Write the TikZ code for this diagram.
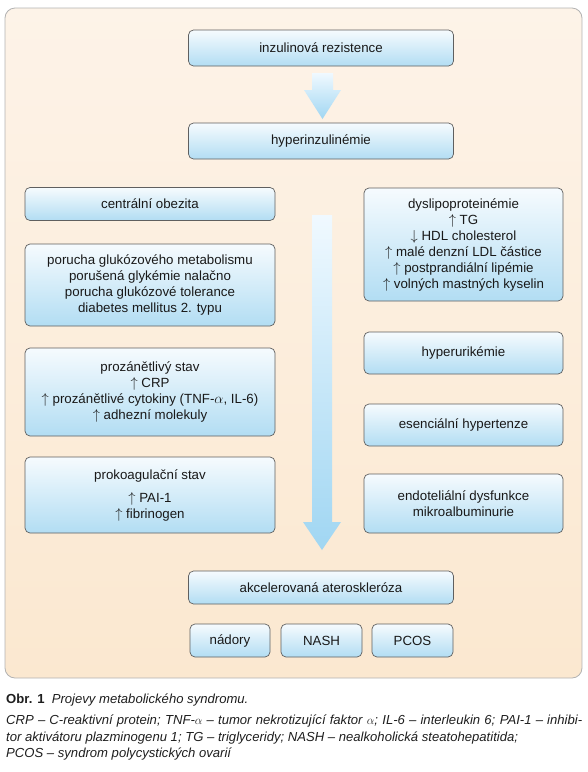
\documentclass[tikz,border=0pt]{standalone}
\usepackage{fontspec}
\setmainfont{Liberation Sans}
\usetikzlibrary{positioning}
\definecolor{panelA}{RGB}{253,243,232}
\definecolor{panelB}{RGB}{251,232,208}
\definecolor{boxtop}{RGB}{246,251,254}
\definecolor{boxbot}{RGB}{178,221,243}
\definecolor{arrtop}{RGB}{240,249,255}
\definecolor{arrbot}{RGB}{160,214,242}
\definecolor{boxline}{RGB}{95,95,95}
\definecolor{captxt}{RGB}{30,30,30}
\tikzset{
  box/.style={draw=boxline, line width=0.7pt, rounded corners=5pt, top color=boxtop, bottom color=boxbot, align=center, inner sep=0pt, font=\fontsize{13.3}{16}\selectfont, text=black!90},
  bigarrow/.style={top color=arrtop, bottom color=arrbot, draw=none},
  captext/.style={anchor=north west, inner sep=0pt, font=\fontsize{13.1}{16.5}\selectfont\itshape, text=captxt}
}
\newcommand{\up}{$\uparrow$\ }
\newcommand{\dn}{$\downarrow$\ }
\begin{document}
\begin{tikzpicture}[x=1pt,y=-1pt]
\useasboundingbox (0,0) rectangle (588,772);
% panel
\shade[top color=panelA, bottom color=panelB, draw=black!30, line width=0.8pt, rounded corners=10pt] (5,8) rectangle (582,678);
% boxes
\node[box, minimum width=265, minimum height=36] (ir) at (321,48) {inzulinová rezistence};
\node[box, minimum width=265, minimum height=36] (hi) at (321,141) {hyperinzulinémie};
\node[box, minimum width=250, minimum height=33] (co) at (150,204) {centrální obezita};
\node[box, minimum width=250, minimum height=82] (gm) at (150,285) {porucha glukózového metabolismu\\porušená glykémie nalačno\\porucha glukózové tolerance\\diabetes mellitus 2. typu};
\node[box, minimum width=250, minimum height=88] (ps) at (150,392) {prozánětlivý stav\\\up CRP\\\up prozánětlivé cytokiny (TNF-$\alpha$, IL-6)\\\up adhezní molekuly};
\node[box, minimum width=250, minimum height=76] (pk) at (150,495) {prokoagulační stav\\[7pt]\up PAI-1\\\up fibrinogen};
\node[box, minimum width=199, minimum height=113] (dl) at (463.5,244.5) {dyslipoproteinémie\\\up TG\\\dn HDL cholesterol\\\up malé denzní LDL částice\\\up postprandiální lipémie\\\up volných mastných kyselin};
\node[box, minimum width=199, minimum height=42] (hu) at (463.5,353) {hyperurikémie};
\node[box, minimum width=199, minimum height=42] (eh) at (463.5,425) {esenciální hypertenze};
\node[box, minimum width=199, minimum height=59] (ed) at (463.5,503.5) {endoteliální dysfunkce\\mikroalbuminurie};
\node[box, minimum width=265, minimum height=33] (aa) at (321,587.5) {akcelerovaná ateroskleróza};
\node[box, minimum width=80, minimum height=33] (na) at (230,640.5) {nádory};
\node[box, minimum width=81, minimum height=33] (ns) at (321.5,640.5) {NASH};
\node[box, minimum width=81, minimum height=33] (pc) at (412.5,640.5) {PCOS};
% small arrow
\shade[bigarrow] (312,73) -- (333,73) -- (333,90) -- (341,90) -- (322.5,119) -- (304,90) -- (312,90) -- cycle;
% big arrow
\coordinate (at) at (322,215);
\coordinate (ab) at (322,550);
\shade[bigarrow] (312,215) -- (332,215) -- (332,522) -- (341,522) -- (ab) -- (303,522) -- (312,522) -- cycle;
% caption
\node[captext, align=left, font=\fontsize{13.1}{14}\selectfont] (c1) at (6,694) {\textbf{Obr. 1}\ \ \textit{Projevy metabolického syndromu.}};
\node[captext, text width=576, align=justify] (c2) at (6,715) {CRP – C-reaktivní protein; TNF-$\alpha$ – tumor nekrotizující faktor $\alpha$; IL-6 – interleukin 6; PAI-1 – inhibi-\linebreak tor aktivátoru plazminogenu 1; TG – triglyceridy; NASH – nealkoholická steatohepatitida;\newline PCOS – syndrom polycystických ovarií};
\end{tikzpicture}
\end{document}
